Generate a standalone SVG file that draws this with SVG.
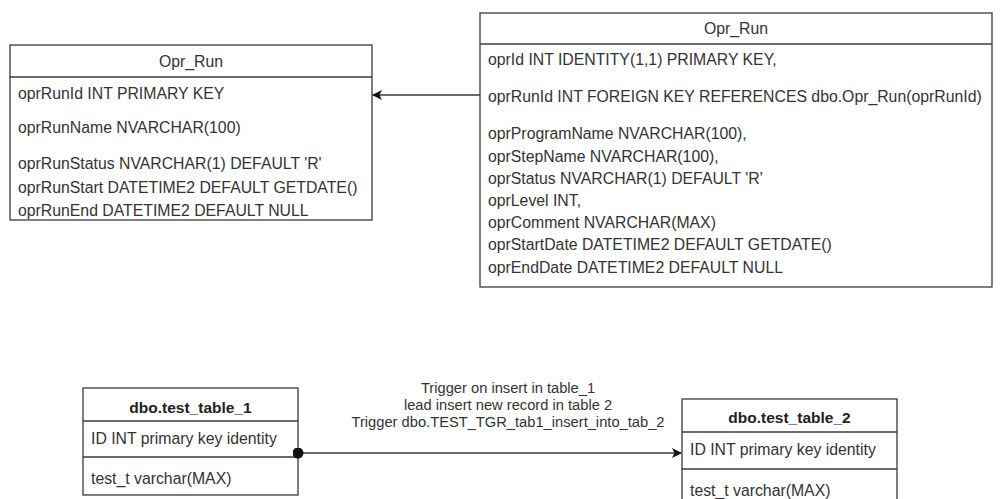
<svg xmlns="http://www.w3.org/2000/svg" width="1003" height="499" viewBox="0 0 1003 499">
<style>
.box{fill:#fff;stroke:#3a3a3a;stroke-width:1.3}
.sep{stroke:#3a3a3a;stroke-width:1.3;fill:none}
.t{font-family:"Liberation Sans",Arial,sans-serif;font-size:15.8px;fill:#333}
.h{text-anchor:middle}
.b{font-weight:bold;fill:#222;font-size:15.5px}
.lbl{font-family:"Liberation Sans",Arial,sans-serif;font-size:14.7px;fill:#333;text-anchor:middle}
.edge{stroke:#3a3a3a;stroke-width:1.3;fill:none}
</style>
<defs>
<marker id="arr" viewBox="0 0 10 10" refX="9" refY="5" markerWidth="10" markerHeight="10" markerUnits="userSpaceOnUse" orient="auto">
<path d="M0,0 L10,5 L0,10 L2.5,5 Z" fill="#111"/>
</marker>
<marker id="dot" viewBox="0 0 10 10" refX="5" refY="5" markerWidth="11" markerHeight="11" markerUnits="userSpaceOnUse" orient="auto">
<circle cx="5" cy="5" r="5" fill="#111"/>
</marker>
</defs>
<g id="opr_run_left">
<rect class="box" x="10" y="45" width="362" height="175"/>
<line class="sep" x1="10" y1="77" x2="372" y2="77"/>
<text class="t h" x="191" y="67">Opr_Run</text>
<text class="t" x="18" y="99">oprRunId INT PRIMARY KEY</text>
<text class="t" x="18" y="133">oprRunName NVARCHAR(100)</text>
<text class="t" x="18" y="169">oprRunStatus NVARCHAR(1) DEFAULT 'R'</text>
<text class="t" x="18" y="193">oprRunStart DATETIME2 DEFAULT GETDATE()</text>
<text class="t" x="18" y="216">oprRunEnd DATETIME2 DEFAULT NULL</text>
</g>
<g id="opr_run_right">
<rect class="box" x="480" y="13" width="512" height="274"/>
<line class="sep" x1="480" y1="44" x2="992" y2="44"/>
<text class="t h" x="736" y="34">Opr_Run</text>
<text class="t" x="488" y="65">oprId INT IDENTITY(1,1) PRIMARY KEY,</text>
<text class="t" x="488" y="102">oprRunId INT FOREIGN KEY REFERENCES dbo.Opr_Run(oprRunId)</text>
<text class="t" x="488" y="139">oprProgramName NVARCHAR(100),</text>
<text class="t" x="488" y="162">oprStepName NVARCHAR(100),</text>
<text class="t" x="488" y="184">oprStatus NVARCHAR(1) DEFAULT 'R'</text>
<text class="t" x="488" y="206">oprLevel INT,</text>
<text class="t" x="488" y="228">oprComment NVARCHAR(MAX)</text>
<text class="t" x="488" y="250">oprStartDate DATETIME2 DEFAULT GETDATE()</text>
<text class="t" x="488" y="273">oprEndDate DATETIME2 DEFAULT NULL</text>
</g>
<g id="test_table_1">
<rect class="box" x="83" y="388" width="215" height="107"/>
<line class="sep" x1="83" y1="421" x2="298" y2="421"/>
<line class="sep" x1="83" y1="457" x2="298" y2="457"/>
<text class="t h b" x="190.5" y="412.5">dbo.test_table_1</text>
<text class="t" x="91" y="443.5">ID INT primary key identity</text>
<text class="t" x="91" y="483.5">test_t varchar(MAX)</text>
</g>
<g id="test_table_2">
<rect class="box" x="682" y="399" width="215" height="115"/>
<line class="sep" x1="682" y1="432" x2="897" y2="432"/>
<line class="sep" x1="682" y1="469" x2="897" y2="469"/>
<text class="t h b" x="789.5" y="422.5">dbo.test_table_2</text>
<text class="t" x="690" y="454.5">ID INT primary key identity</text>
<text class="t" x="690" y="495.5">test_t varchar(MAX)</text>
</g>
<g id="connectors">
<line class="edge" x1="480" y1="95" x2="373" y2="95" marker-end="url(#arr)"/>
<line class="edge" x1="298" y1="453" x2="681" y2="453" marker-start="url(#dot)" marker-end="url(#arr)"/>
<text class="lbl" x="508" y="393">Trigger on insert in table_1</text>
<text class="lbl" x="508" y="410">lead insert new record in table 2</text>
<text class="lbl" x="508" y="427">Trigger dbo.TEST_TGR_tab1_insert_into_tab_2</text>
</g>
</svg>
